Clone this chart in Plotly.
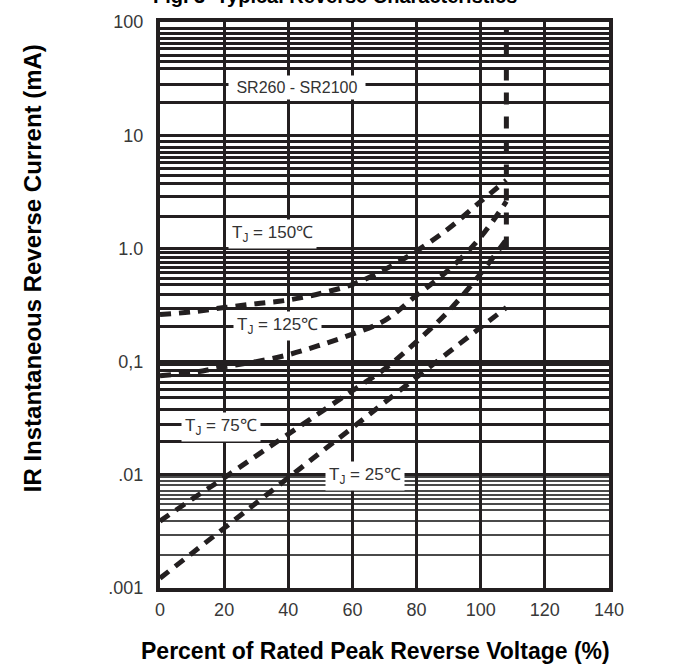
import math
import plotly.graph_objects as go

# ---- data ----
x_pct = [0, 10, 20, 30, 40, 50, 60, 70, 80, 90, 100, 108]
ir_150 = [0.26, 0.275, 0.30, 0.325, 0.35, 0.40, 0.48, 0.65, 0.95, 1.5, 2.6, 4.0]
ir_125 = [0.075, 0.08, 0.09, 0.10, 0.115, 0.14, 0.175, 0.23, 0.385, 0.645, 1.26, 2.6]
ir_75 = [0.0039, 0.0061, 0.0094, 0.0147, 0.0229, 0.0356, 0.0553, 0.086, 0.15, 0.28, 0.6, 1.2]
ir_25 = [0.00122, 0.00203, 0.00338, 0.00564, 0.0094, 0.0157, 0.0261, 0.0435, 0.0726, 0.121, 0.201, 0.30]
vert_x = [108, 108]
vert_y = [1.0, 85]

decade_vals = [0.001, 0.01, 0.1, 1, 10, 100]
decade_text = [".001", ".01", "0,1", "1.0", "10", "100"]
grid_major = [86.9, 78.6, 71.1, 64.3, 58.1, 50.5, 44.8, 38.9, 28.2, 19.3,
              8.80, 7.80, 7.05, 6.38, 5.77, 5.11, 4.44, 3.78, 2.85, 1.91,
              0.926, 0.838, 0.758, 0.685, 0.608, 0.538, 0.477, 0.390, 0.295, 0.205,
              0.0937, 0.0831, 0.0752, 0.0653, 0.0567, 0.0483, 0.0380, 0.0281, 0.0196]
grid_minor = [0.00949, 0.00876, 0.00808, 0.00716, 0.00661, 0.00610, 0.00551,
              0.00489, 0.00392, 0.00296, 0.00194]
x_ticks = [0, 20, 40, 60, 80, 100, 120, 140]

INK = "#231f20"
FONT = "Liberation Sans, Arial, sans-serif"

fig = go.Figure()
dash = "11px,8px"
for ys in (ir_150, ir_125, ir_75, ir_25):
    fig.add_trace(go.Scatter(x=x_pct, y=ys, mode="lines", line=dict(color=INK, width=5, dash=dash),
                             line_shape="spline", hoverinfo="skip", showlegend=False))
fig.add_trace(go.Scatter(x=vert_x, y=vert_y, mode="lines", line=dict(color=INK, width=5, dash="12px,12px"),
                         hoverinfo="skip", showlegend=False))

tickvals = decade_vals + grid_major
ticktext = decade_text + [""] * len(grid_major)

fig.update_layout(
    width=675, height=666,
    margin=dict(l=160, r=66, t=13, b=78),
    paper_bgcolor="white", plot_bgcolor="white",
    font=dict(family=FONT, color="#333", size=16),
    xaxis=dict(range=[0, 140], tickvals=x_ticks, showgrid=True, gridcolor=INK, gridwidth=3,
               showline=True, linecolor=INK, linewidth=4, mirror=True, zeroline=False,
               ticks="outside", ticklen=2, tickcolor="rgba(0,0,0,0)",
               tickfont=dict(size=18, color="#383838")),
    yaxis=dict(type="log", range=[-3, 2], tickvals=tickvals, ticktext=ticktext,
               showgrid=True, gridcolor=INK, gridwidth=3,
               showline=True, linecolor=INK, linewidth=4, mirror=True, zeroline=False,
               ticks="outside", ticklen=9, tickcolor="rgba(0,0,0,0)",
               tickfont=dict(size=18, color="#383838"),
               minor=dict(tickvals=grid_minor, showgrid=True, gridcolor="#4a4a4a", gridwidth=2,
                          ticks="")),
)

NB = "&nbsp;"
labels = [
    (NB + "SR260 - SR2100" + NB, 42.7, 26.5, 16),
    ("T<sub>J</sub> = 150\u2103", 35.2, 1.33, 17),
    ("T<sub>J</sub> = 125\u2103", 36.5, 0.205, 17),
    ("T<sub>J</sub> = 75\u2103", 19.0, 0.0264, 17),
    ("T<sub>J</sub> = 25\u2103", 63.9, 0.0097, 17),
]
for t, xv, yv, fs in labels:
    fig.add_annotation(x=xv, y=math.log10(yv), text=t, showarrow=False,
                       font=dict(family=FONT, size=fs, color="#333"),
                       bgcolor="white", borderpad=3)

fig.add_annotation(xref="paper", yref="paper", x=0.479, y=-0.1117, xanchor="center", yanchor="middle",
                   text="<b>Percent of Rated Peak Reverse Voltage (%)</b>", showarrow=False,
                   font=dict(family=FONT, size=23, color="black"))
fig.add_annotation(xref="paper", yref="paper", x=-0.285, y=0.565, xanchor="center", yanchor="middle",
                   textangle=-90, text="<b>IR Instantaneous Reverse Current (mA)</b>", showarrow=False,
                   font=dict(family=FONT, size=24, color="black"))
fig.add_annotation(xref="paper", yref="paper", x=-0.02, y=1.0, xanchor="left", yanchor="bottom", yshift=13,
                   text="<b>Fig. 3" + NB + NB + "Typical Reverse Characteristics</b>", showarrow=False,
                   font=dict(family=FONT, size=20, color="black"))

fig.write_html("out.html", config={"displayModeBar": False},
               post_script="document.body.style.margin='0';")
